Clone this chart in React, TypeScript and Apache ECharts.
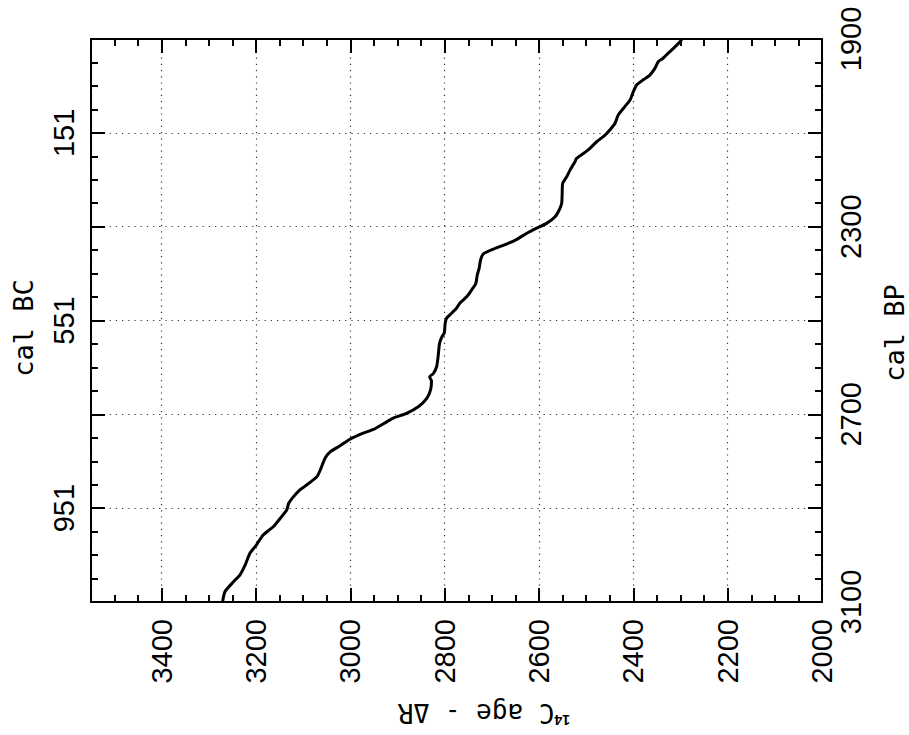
import React, { useEffect, useRef } from "react";
import * as echarts from "echarts";

// 14C age - ΔR (horizontal axis) and calibrated age in cal BP (vertical axis)
const AGE_14C = [
  3271, 3266, 3248, 3234, 3223, 3213, 3199, 3185, 3163, 3149, 3135, 3131, 3121, 3107, 3096,
  3071, 3064, 3054, 3043, 3022, 3001, 2973, 2951, 2923, 2909, 2881, 2856, 2838, 2830, 2828,
  2832, 2824, 2817, 2814, 2811, 2806, 2801, 2799, 2796, 2789, 2775, 2768, 2753, 2743, 2734,
  2731, 2727, 2724, 2718, 2697, 2669, 2647, 2626, 2605, 2584, 2566, 2557, 2552, 2551, 2550,
  2541, 2534, 2524, 2520, 2506, 2492, 2478, 2460, 2450, 2439, 2432, 2418, 2407, 2400, 2393,
  2379, 2365, 2354, 2347, 2337, 2326, 2315, 2301, 2297,
];
const CAL_BP = [
  3100, 3078, 3057, 3042, 3021, 2996, 2978, 2957, 2939, 2922, 2904, 2890, 2876, 2861, 2853,
  2833, 2819, 2794, 2780, 2767, 2753, 2740, 2732, 2716, 2708, 2698, 2684, 2666, 2648, 2629,
  2620, 2613, 2598, 2577, 2549, 2535, 2527, 2506, 2495, 2488, 2474, 2463, 2449, 2435, 2421,
  2403, 2389, 2371, 2358, 2348, 2337, 2327, 2314, 2303, 2293, 2279, 2264, 2250, 2232, 2208,
  2193, 2179, 2162, 2154, 2144, 2133, 2119, 2105, 2094, 2080, 2062, 2044, 2030, 2012, 1998,
  1987, 1977, 1962, 1948, 1941, 1930, 1920, 1906, 1900,
];

const X_TICK_LABELS = [2000, 2200, 2400, 2600, 2800, 3000, 3200, 3400];
const RIGHT_TICK_LABELS = [1900, 2300, 2700, 3100]; // cal BP
const LEFT_TICK_LABELS = [151, 551, 951]; // cal BC
const BC_OFFSET = 1949; // cal BC = cal BP - 1949

const X_MIN = 2000;
const X_MAX = 3550;
const Y_MIN = 1900;
const Y_MAX = 3100;

const NUM_FONT = "Liberation Sans";
const MONO_FONT = "DejaVu Sans Mono";

export default function App() {
  const ref = useRef<HTMLDivElement>(null);

  useEffect(() => {
    if (!ref.current) return;
    const chart = echarts.init(ref.current, undefined, { renderer: "svg" });
    const data = AGE_14C.map((a, i) => [a, CAL_BP[i]]);

    const dotted = { color: "#333", width: 1.2, type: [1.2, 5] as any };
    const boxLine = { show: true, lineStyle: { color: "#000", width: 2 } };

    const xBase = {
      type: "value" as const,
      min: X_MIN,
      max: X_MAX,
      inverse: true,
      gridIndex: 0,
    };
    const yBase = {
      type: "value" as const,
      min: Y_MIN,
      max: Y_MAX,
      inverse: true,
      gridIndex: 0,
    };
    const major = { show: true, inside: true, length: 14, lineStyle: { color: "#000", width: 2 } };
    const minor = { show: true, inside: true, length: 7, lineStyle: { color: "#000", width: 2 } };
    const noLine = { show: false };
    const noLabel = { show: false };
    const noSplit = { show: false };

    chart.setOption({
      animation: false,
      backgroundColor: "#fff",
      grid: {
        left: 91,
        top: 39,
        width: 731,
        height: 563,
        containLabel: false,
        outerBoundsMode: "none",
      },
      xAxis: [
        {
          ...xBase,
          position: "bottom",
          interval: 200,
          axisLine: boxLine,
          axisTick: major,
          axisLabel: {
            rotate: 90,
            margin: 17,
            fontSize: 29,
            fontFamily: NUM_FONT,
            color: "#000",
            formatter: (v: number) => (X_TICK_LABELS.includes(v) ? String(v) : ""),
          },
          splitLine: { show: true, lineStyle: dotted },
        },
        { ...xBase, position: "bottom", interval: 50, axisLine: noLine, axisTick: minor, axisLabel: noLabel, splitLine: noSplit },
        { ...xBase, position: "top", interval: 200, axisLine: boxLine, axisTick: major, axisLabel: noLabel, splitLine: noSplit },
        { ...xBase, position: "top", interval: 50, axisLine: noLine, axisTick: minor, axisLabel: noLabel, splitLine: noSplit },
      ],
      yAxis: [
        {
          ...yBase,
          position: "left",
          interval: 200,
          axisLine: boxLine,
          axisTick: major,
          axisLabel: {
            rotate: 90,
            margin: 13,
            fontSize: 29,
            fontFamily: NUM_FONT,
            color: "#000",
            formatter: (v: number) =>
              LEFT_TICK_LABELS.includes(v - BC_OFFSET) ? String(v - BC_OFFSET) : "",
          },
          splitLine: { show: true, lineStyle: dotted },
        },
        { ...yBase, position: "left", interval: 50, axisLine: noLine, axisTick: minor, axisLabel: noLabel, splitLine: noSplit },
        {
          ...yBase,
          position: "right",
          interval: 200,
          axisLine: boxLine,
          axisTick: major,
          axisLabel: {
            rotate: 90,
            margin: 14,
            fontSize: 29,
            fontFamily: NUM_FONT,
            color: "#000",
            formatter: (v: number) => (RIGHT_TICK_LABELS.includes(v) ? String(v) : ""),
          },
          splitLine: noSplit,
        },
        { ...yBase, position: "right", interval: 50, axisLine: noLine, axisTick: minor, axisLabel: noLabel, splitLine: noSplit },
      ],
      series: [
        {
          type: "line",
          xAxisIndex: 0,
          yAxisIndex: 0,
          data,
          showSymbol: false,
          symbol: "none",
          smooth: 0.2,
          lineStyle: { color: "#000", width: 3 },
          z: 5,
        },
      ],
      graphic: [
        {
          type: "text",
          x: 23,
          y: 328,
          rotation: Math.PI / 2,
          style: {
            text: "cal BC",
            fontSize: 27,
            fontFamily: MONO_FONT,
            fill: "#000",
            textAlign: "center",
            textVerticalAlign: "middle",
          },
        },
        {
          type: "text",
          x: 894,
          y: 333,
          rotation: Math.PI / 2,
          style: {
            text: "cal BP",
            fontSize: 27,
            fontFamily: MONO_FONT,
            fill: "#000",
            textAlign: "center",
            textVerticalAlign: "middle",
          },
        },
        {
          type: "text",
          x: 484,
          y: 713,
          rotation: Math.PI,
          style: {
            text: "{sup|14}{main|C age - ΔR}",
            fill: "#000",
            textAlign: "center",
            textVerticalAlign: "middle",
            rich: {
              sup: {
                fontSize: 14,
                fontFamily: NUM_FONT,
                fontWeight: "bold",
                fill: "#000",
                verticalAlign: "top",
                lineHeight: 27,
              },
              main: {
                fontSize: 26,
                fontFamily: MONO_FONT,
                fill: "#000",
                lineHeight: 27,
              },
            },
          },
        },
      ],
    });

    return () => chart.dispose();
  }, []);

  return (
    <div
      ref={ref}
      style={{ position: "absolute", left: 0, top: 0, width: 909, height: 735, background: "#fff" }}
    />
  );
}
